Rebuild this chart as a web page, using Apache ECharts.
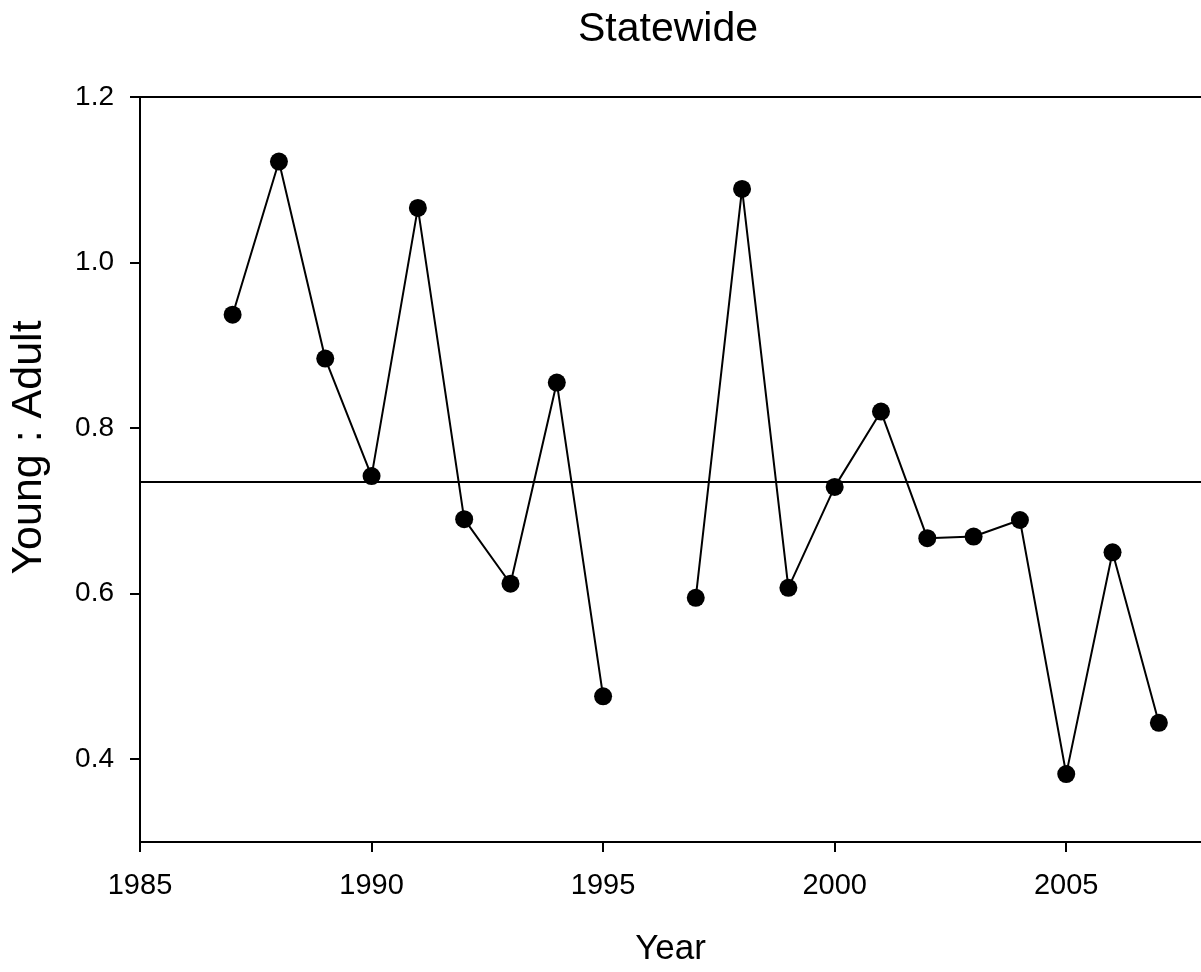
<!DOCTYPE html>
<html>
<head>
<meta charset="utf-8">
<script src="https://cdn.jsdelivr.net/npm/echarts@6/dist/echarts.min.js"></script>
<style>
html,body{margin:0;padding:0;background:#fff;}
#chart{width:1201px;height:972px;}
</style>
</head>
<body>
<div id="chart"></div>
<script>
const years = [1987,1988,1989,1990,1991,1992,1993,1994,1995,1996,1997,1998,1999,2000,2001,2002,2003,2004,2005,2006,2007];
const ratios = [0.937,1.122,0.884,0.742,1.066,0.690,0.612,0.855,0.476,null,0.595,1.089,0.607,0.729,0.820,0.667,0.669,0.689,0.382,0.650,0.444];
const meanRatio = 0.735;
const xTicks = [1985,1990,1995,2000,2005];
const yTicks = [0.4,0.6,0.8,1.0,1.2];
const xMin = 1985, xMax = 2007.91, yMin = 0.3, yMax = 1.2;

const font = '"Liberation Sans", Arial, sans-serif';
const chart = echarts.init(document.getElementById('chart'), null, {renderer:'canvas'});
chart.setOption({
  animation:false,
  backgroundColor:'#fff',
  title:{text:'Statewide', left:663, top:4, textAlign:'center',
    textStyle:{fontFamily:font, fontSize:41, fontWeight:'normal', color:'#000'}},
  grid:{left:139, right:0, top:97, bottom:126, containLabel:false},
  xAxis:[{
    type:'value', min:xMin, max:xMax,
    name:'Year', nameLocation:'middle', nameGap:90,
    nameTextStyle:{fontFamily:font, fontSize:35, color:'#000'},
    axisLine:{show:true, onZero:false, lineStyle:{color:'#000', width:2}},
    axisTick:{show:true, inside:false, length:10, customValues:xTicks, lineStyle:{color:'#000', width:2}},
    axisLabel:{fontFamily:font, fontSize:29, color:'#000', margin:29, customValues:xTicks,
      formatter:v => String(v)},
    splitLine:{show:false}
  },{
    type:'value', position:'top', min:xMin, max:xMax,
    axisLine:{show:true, onZero:false, lineStyle:{color:'#000', width:2}},
    axisTick:{show:false}, axisLabel:{show:false}, splitLine:{show:false}
  }],
  yAxis:{
    type:'value', min:yMin, max:yMax,
    name:'Young : Adult', nameLocation:'middle', nameGap:89, nameRotate:90,
    nameTextStyle:{fontFamily:font, fontSize:43, color:'#000', padding:[0,0,0,44]},
    axisLine:{show:true, onZero:false, lineStyle:{color:'#000', width:2}},
    axisTick:{show:true, inside:false, length:10, customValues:yTicks, lineStyle:{color:'#000', width:2}},
    axisLabel:{fontFamily:font, fontSize:28, color:'#000', margin:26, customValues:yTicks,
      formatter:v => v.toFixed(1)},
    splitLine:{show:false}
  },
  series:[{
    type:'line',
    data: years.map((y,i)=>[y, ratios[i]===null ? '-' : ratios[i]]),
    connectNulls:false,
    symbol:'circle', symbolSize:18,
    itemStyle:{color:'#000'},
    lineStyle:{color:'#000', width:2},
    z:3
  },{
    type:'line',
    data:[[xMin, meanRatio],[xMax, meanRatio]],
    symbol:'none',
    lineStyle:{color:'#000', width:2},
    z:2
  }]
});
</script>
</body>
</html>
